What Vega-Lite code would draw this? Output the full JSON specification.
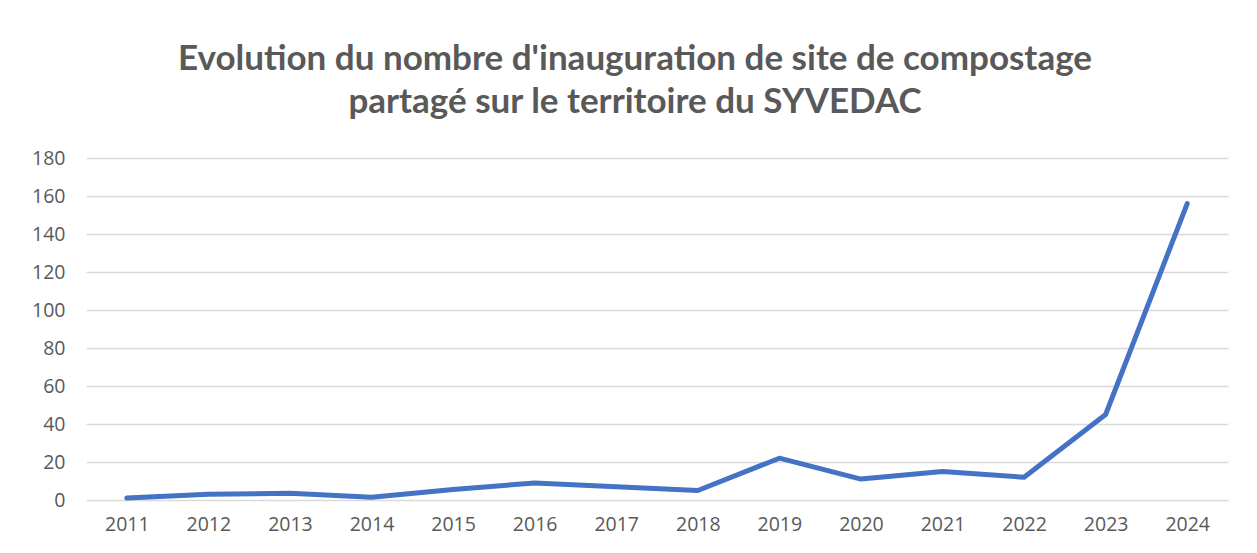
{
  "$schema": "https://vega.github.io/schema/vega-lite/v6.json",
  "autosize": {"type": "none"},
  "width": 1142,
  "height": 342,
  "padding": {"left": 86, "top": 158, "right": 29, "bottom": 53},
  "background": "white",
  "title": {
    "text": ["Evolution du nombre d'inauguration de site de compostage", "partagé sur le territoire du SYVEDAC"],
    "font": "Lato",
    "fontSize": 35,
    "fontWeight": "bold",
    "color": "#595959",
    "lineHeight": 43,
    "anchor": "middle",
    "dx": -22,
    "offset": 28
  },
  "data": {
    "values": [
      {"annee": "2011", "nombre": 1},
      {"annee": "2012", "nombre": 3},
      {"annee": "2013", "nombre": 3.5},
      {"annee": "2014", "nombre": 1.5},
      {"annee": "2015", "nombre": 5.5},
      {"annee": "2016", "nombre": 9},
      {"annee": "2017", "nombre": 7},
      {"annee": "2018", "nombre": 5},
      {"annee": "2019", "nombre": 22},
      {"annee": "2020", "nombre": 11},
      {"annee": "2021", "nombre": 15},
      {"annee": "2022", "nombre": 12},
      {"annee": "2023", "nombre": 45},
      {"annee": "2024", "nombre": 156}
    ]
  },
  "mark": {"type": "line", "color": "#4472C4", "strokeWidth": 5, "strokeCap": "round", "strokeJoin": "round"},
  "encoding": {
    "x": {
      "field": "annee",
      "type": "ordinal",
      "scale": {"type": "point", "padding": 0.5},
      "axis": {
        "title": null,
        "labelAngle": 0,
        "domain": false,
        "ticks": false,
        "grid": false,
        "labelFont": "Open Sans",
        "labelFontSize": 19.5,
        "labelColor": "#595959",
        "labelPadding": 15
      }
    },
    "y": {
      "field": "nombre",
      "type": "quantitative",
      "scale": {"domain": [0, 180]},
      "axis": {
        "title": null,
        "values": [0, 20, 40, 60, 80, 100, 120, 140, 160, 180],
        "domain": false,
        "ticks": false,
        "grid": true,
        "gridColor": "#d9d9d9",
        "gridWidth": 1.5,
        "labelFont": "Open Sans",
        "labelFontSize": 19.5,
        "labelColor": "#595959",
        "labelPadding": 21
      }
    }
  },
  "config": {"view": {"stroke": null}}
}
